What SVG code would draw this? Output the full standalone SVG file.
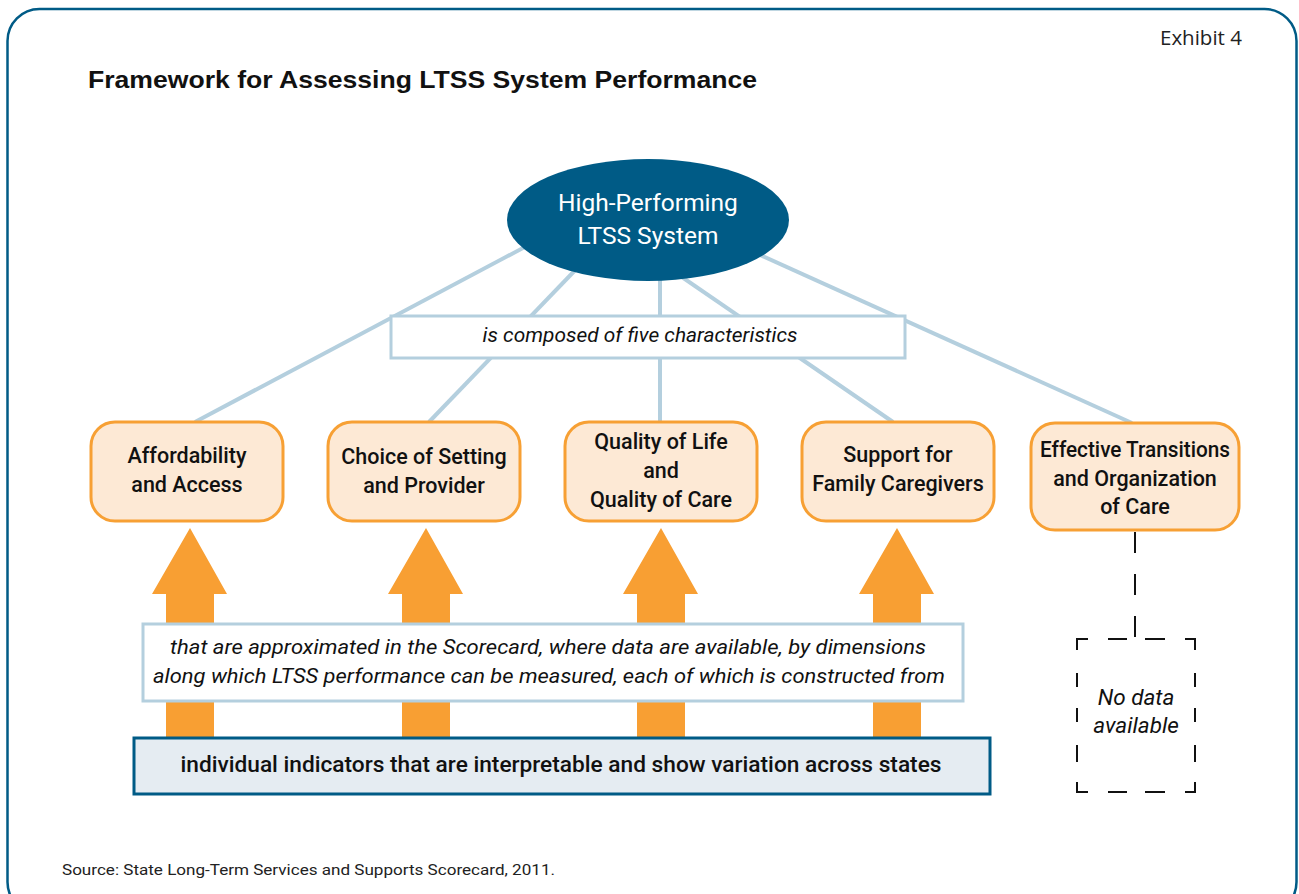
<svg xmlns="http://www.w3.org/2000/svg" width="1299" height="894" viewBox="0 0 1299 894">
  <style>
    .frame { fill: #ffffff; stroke: #005b86; stroke-width: 2.5; }
    .title { font-family: "Liberation Sans", Arial, sans-serif; font-weight: bold; font-size: 24px; fill: #111; }
    .exhibit { font-family: "Open Sans", "Liberation Sans", sans-serif; font-size: 20.5px; fill: #222; }
    .source { font-family: "Roboto", "Liberation Sans", sans-serif; font-size: 15.5px; fill: #222; }
    .link { stroke: #b4cfde; stroke-width: 4; fill: none; }
    .char { fill: #fde9d5; stroke: #f7a034; stroke-width: 3; }
    .label { font-family: "Roboto", "Liberation Sans", sans-serif; font-weight: 500; font-size: 21.5px; fill: #111; text-anchor: middle; }
    .sys { font-family: "Roboto", "Liberation Sans", sans-serif; font-size: 24.5px; fill: #ffffff; text-anchor: middle; }
    .note { font-family: "Roboto", "Liberation Sans", sans-serif; font-style: italic; font-size: 21px; fill: #111; text-anchor: middle; }
    .notebox { fill: #ffffff; stroke: #b4cfde; stroke-width: 3; }
    .arrow { fill: #f89f33; }
    .dash { stroke: #111; stroke-width: 2; fill: none; }
  </style>

  <!-- outer frame -->
  <rect class="frame" x="7.5" y="9" width="1289" height="905" rx="32"/>

  <text class="exhibit" x="1160" y="45">Exhibit 4</text>
  <text class="title" x="88" y="88" textLength="669" lengthAdjust="spacingAndGlyphs">Framework for Assessing LTSS System Performance</text>

  <!-- connectors: system to characteristics, dimensions arrows, no-data link -->
  <g id="connectors">
    <line class="link" x1="538" y1="240" x2="195" y2="422"/>
    <line class="link" x1="585" y1="260" x2="429" y2="422"/>
    <line class="link" x1="660" y1="270" x2="660" y2="422"/>
    <line class="link" x1="660" y1="262" x2="893" y2="422"/>
    <line class="link" x1="727" y1="240" x2="1132" y2="423"/>

    <path class="arrow" d="M190 528 L227 594 L214 594 L214 738 L166 738 L166 594 L152 594 Z"/>
    <path class="arrow" d="M426 528 L463 594 L450 594 L450 738 L402 738 L402 594 L388 594 Z"/>
    <path class="arrow" d="M661 528 L698 594 L685 594 L685 738 L637 738 L637 594 L623 594 Z"/>
    <path class="arrow" d="M897 528 L934 594 L921 594 L921 738 L873 738 L873 594 L859 594 Z"/>

    <line class="dash" x1="1135" y1="532" x2="1135" y2="637" stroke-dasharray="21 21"/>
  </g>

  <g id="system">
    <ellipse cx="648" cy="220" rx="141" ry="61" fill="#005b86"/>
    <text class="sys" x="648" y="211">High-Performing</text>
    <text class="sys" x="648" y="244">LTSS System</text>
  </g>

  <g id="composed">
    <rect class="notebox" x="391" y="316" width="514" height="42"/>
    <text class="note" x="640" y="342" textLength="315" lengthAdjust="spacingAndGlyphs">is composed of five characteristics</text>
  </g>

  <g id="affordability">
    <rect class="char" x="91" y="422" width="192" height="99" rx="24"/>
    <text class="label" x="187" y="463">Affordability</text>
    <text class="label" x="187" y="492">and Access</text>
  </g>

  <g id="choice">
    <rect class="char" x="328" y="422" width="192" height="99" rx="24"/>
    <text class="label" x="424" y="464">Choice of Setting</text>
    <text class="label" x="424" y="493">and Provider</text>
  </g>

  <g id="quality">
    <rect class="char" x="565" y="422" width="192" height="99" rx="24"/>
    <text class="label" x="661" y="449">Quality of Life</text>
    <text class="label" x="661" y="478">and</text>
    <text class="label" x="661" y="507">Quality of Care</text>
  </g>

  <g id="caregivers">
    <rect class="char" x="802" y="422" width="192" height="99" rx="24"/>
    <text class="label" x="898" y="462">Support for</text>
    <text class="label" x="898" y="491">Family Caregivers</text>
  </g>

  <g id="transitions">
    <rect class="char" x="1031" y="423" width="208" height="107" rx="24"/>
    <text class="label" x="1135" y="457" textLength="190" lengthAdjust="spacingAndGlyphs">Effective Transitions</text>
    <text class="label" x="1135" y="486">and Organization</text>
    <text class="label" x="1135" y="514">of Care</text>
  </g>

  <g id="dimensions">
    <rect class="notebox" x="143" y="624" width="820" height="77"/>
    <text class="note" x="548" y="654" textLength="756" lengthAdjust="spacingAndGlyphs">that are approximated in the Scorecard, where data are available, by dimensions</text>
    <text class="note" x="549" y="683" textLength="792" lengthAdjust="spacingAndGlyphs">along which LTSS performance can be measured, each of which is constructed from</text>
  </g>

  <g id="indicators">
    <rect x="134" y="738" width="856" height="56" fill="#e5ecf2" stroke="#005b86" stroke-width="3"/>
    <text class="label" x="561" y="772" textLength="761" lengthAdjust="spacingAndGlyphs">individual indicators that are interpretable and show variation across states</text>
  </g>

  <g id="no-data">
    <path class="dash" d="M1077 650 V639 H1088 M1108 639 H1127 M1145 639 H1165 M1185 639 H1195 V650
                          M1077 673 V687 M1077 708 V722 M1077 745 V762 M1077 782 V792 H1088
                          M1195 673 V687 M1195 708 V722 M1195 745 V762 M1195 782 V792 H1185
                          M1108 792 H1127 M1145 792 H1165"/>
    <text class="note" x="1136" y="705" style="font-size:22.5px">No data</text>
    <text class="note" x="1136" y="733" style="font-size:22.5px">available</text>
  </g>

  <text class="source" x="62" y="875" textLength="493" lengthAdjust="spacingAndGlyphs">Source: State Long-Term Services and Supports Scorecard, 2011.</text>
</svg>
